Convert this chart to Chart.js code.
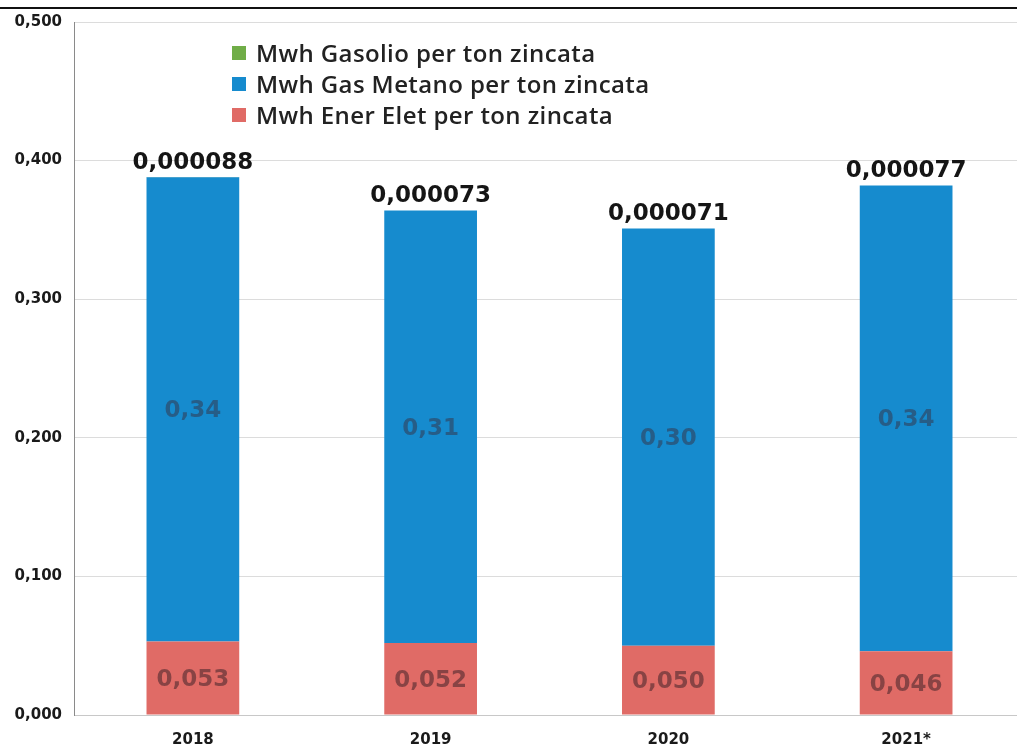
<!DOCTYPE html>
<html lang="it">
  <head>
    <meta charset="utf-8">
    <title>Consumi energetici per ton zincata</title>
    <style>
      body {
        margin: 0;
        width: 1017px;
        height: 749px;
        overflow: hidden;
        background: #fff;
        position: relative;
      }
      .top-rule {
        position: absolute;
        left: 0;
        top: 7px;
        width: 1017px;
        height: 2px;
        background: #111;
      }
      .chart-box {
        position: absolute;
        left: 0;
        top: 0;
        width: 1040px;
        height: 749px;
      }
      .legend {
        position: absolute;
        left: 232px;
        top: 37px;
        font-family: "Open Sans", sans-serif;
        font-weight: 600;
        font-size: 24px;
        letter-spacing: 0.4px;
        color: #222;
        line-height: 31px;
      }
      .legend-row {
        display: flex;
        align-items: center;
        gap: 10px;
      }
      .legend-swatch {
        width: 14px;
        height: 14px;
      }
    </style>
    <script src="https://cdn.jsdelivr.net/npm/chart.js@4.4.4/dist/chart.umd.min.js"></script>
  </head>
  <body>
    <div class="top-rule"></div>
    <div class="chart-box">
      <canvas id="output-plot" width="1040" height="749"></canvas>
    </div>
    <div class="legend" id="legend"></div>
    <script>
      const years = ['2018', '2019', '2020', '2021*'];
      const ener_elet = [0.053, 0.052, 0.050, 0.046];
      const gas_metano = [0.335, 0.312, 0.301, 0.336];
      const gasolio = [0.000088, 0.000073, 0.000071, 0.000077];
      const y_ticks = [0, 0.1, 0.2, 0.3, 0.4, 0.5];

      const colour_elet = '#e06b66';
      const colour_gas = '#168bce';
      const colour_gasolio = '#70ad47';

      function itNumber(value, digits) {
        return value.toFixed(digits).replace('.', ',');
      }

      // legend, same order as the reference (top series first)
      const legend_items = [
        ['Mwh Gasolio per ton zincata', colour_gasolio],
        ['Mwh Gas Metano per ton zincata', colour_gas],
        ['Mwh Ener Elet per ton zincata', colour_elet],
      ];
      const legend = document.getElementById('legend');
      legend_items.forEach(([text, colour]) => {
        const row = document.createElement('div');
        row.className = 'legend-row';
        const swatch = document.createElement('span');
        swatch.className = 'legend-swatch';
        swatch.style.background = colour;
        const label = document.createElement('span');
        label.textContent = text;
        row.appendChild(swatch);
        row.appendChild(label);
        legend.appendChild(row);
      });

      const valueLabels = {
        id: 'valueLabels',
        afterDatasetsDraw(chart) {
          const ctx = chart.ctx;
          ctx.save();
          ctx.textAlign = 'center';
          chart.data.datasets.forEach((dataset, i) => {
            const meta = chart.getDatasetMeta(i);
            meta.data.forEach((bar, j) => {
              const value = dataset.data[j];
              if (dataset.labelStyle === 'top') {
                ctx.font = 'bold 23px "DejaVu Sans"';
                ctx.fillStyle = '#151515';
                ctx.textBaseline = 'alphabetic';
                ctx.fillText(itNumber(value, dataset.digits), bar.x, bar.y - 8);
              } else {
                ctx.font = 'bold 23px "DejaVu Sans"';
                ctx.fillStyle = dataset.labelColour;
                ctx.textBaseline = 'middle';
                ctx.fillText(itNumber(value, dataset.digits), bar.x, (bar.y + bar.base) / 2 + 2);
              }
            });
          });
          ctx.restore();
        }
      };

      const ctx = document.getElementById('output-plot');
      new Chart(ctx, {
        type: 'bar',
        data: {
          labels: years,
          datasets: [
            {
              label: 'Mwh Ener Elet per ton zincata',
              data: ener_elet,
              backgroundColor: colour_elet,
              digits: 3,
              labelColour: 'rgba(120, 60, 62, 0.85)',
            },
            {
              label: 'Mwh Gas Metano per ton zincata',
              data: gas_metano,
              backgroundColor: colour_gas,
              digits: 2,
              labelColour: 'rgba(40, 88, 128, 0.9)',
            },
            {
              label: 'Mwh Gasolio per ton zincata',
              data: gasolio,
              backgroundColor: colour_gasolio,
              digits: 6,
              labelStyle: 'top',
            },
          ]
        },
        options: {
          responsive: false,
          animation: false,
          layout: {
            padding: { top: 22, right: 15, left: 0, bottom: 0 }
          },
          datasets: {
            bar: {
              categoryPercentage: 1,
              barPercentage: 0.39,
              borderWidth: 0,
            }
          },
          scales: {
            x: {
              stacked: true,
              grid: { display: false, drawTicks: false },
              border: { color: '#c8c8c8', width: 1 },
              ticks: {
                padding: 16,
                color: '#1a1a1a',
                font: { family: 'DejaVu Sans', weight: 'bold', size: 15 },
              },
              afterFit(scale) { scale.height = 34; }
            },
            y: {
              stacked: true,
              min: 0,
              max: 0.5,
              afterBuildTicks(scale) {
                scale.ticks = y_ticks.map(v => ({ value: v }));
              },
              grid: { color: '#dcdcdc', drawTicks: false },
              border: { color: '#8a8a8a', width: 1 },
              ticks: {
                padding: 12,
                color: '#1a1a1a',
                font: { family: 'DejaVu Sans', weight: 'bold', size: 15 },
                callback: value => itNumber(value, 3),
              },
              afterFit(scale) { scale.width = 74; }
            }
          },
          plugins: {
            legend: { display: false },
            tooltip: { enabled: false },
          }
        },
        plugins: [valueLabels]
      });
    </script>
  </body>
</html>
